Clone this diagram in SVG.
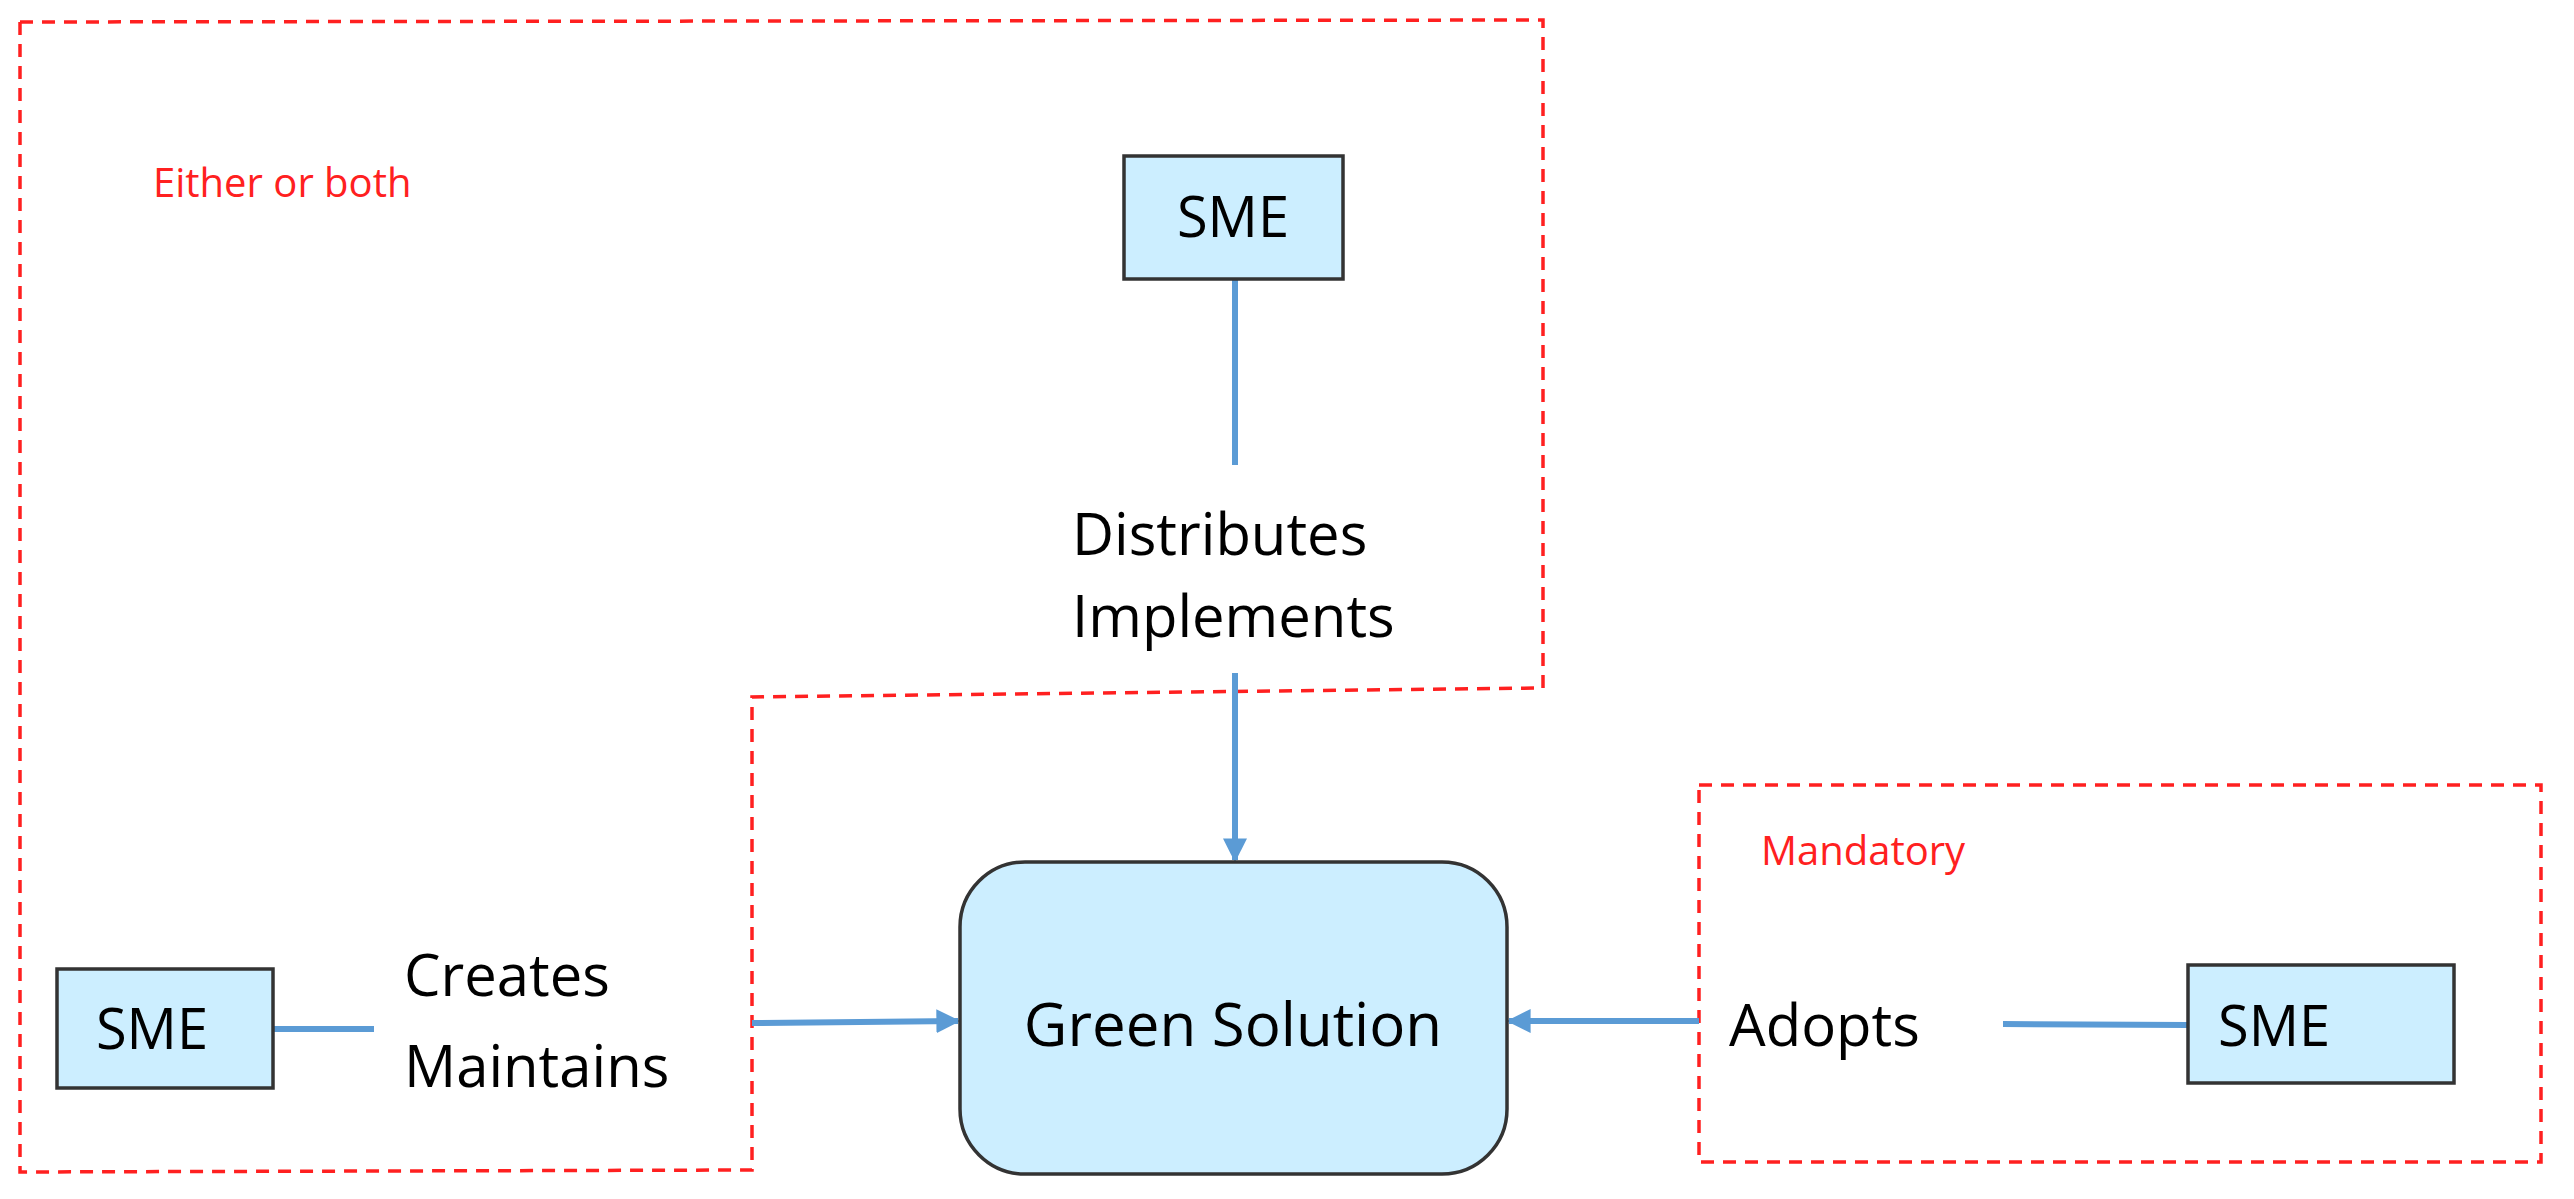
<svg xmlns="http://www.w3.org/2000/svg" width="2574" height="1199" viewBox="0 0 2574 1199">
<style>
.dash{fill:none;stroke:#ff2020;stroke-width:3.5;stroke-dasharray:13 9}
.box{fill:#cceeff;stroke:#333;stroke-width:3.5}
.t{font-family:"Open Sans","Liberation Sans",sans-serif;fill:#000}
.r{font-family:"Open Sans","Liberation Sans",sans-serif;fill:#ff2020;font-size:40px}
.c{fill:none;stroke:#5b9bd5;stroke-width:6}
</style>
<defs><marker id="a" viewBox="0 0 10 10" refX="9" refY="5" markerWidth="4" markerHeight="4" orient="auto"><path d="M0,0L10,5L0,10z" fill="#5b9bd5"/></marker></defs>
<rect width="2574" height="1199" fill="#fff"/>
<g id="groups">
<path class="dash" d="M20,22 L1543,20 L1543,688 L752,697 L752,1170 L20,1172 Z"/>
<rect class="dash" x="1699" y="785" width="842" height="377"/>
<text class="r" x="153" y="197">Either or both</text>
<text class="r" x="1761" y="865">Mandatory</text>
</g>
<g id="connectors">
<line class="c" x1="1235" y1="279" x2="1235" y2="465"/>
<line class="c" x1="1235" y1="673" x2="1235" y2="860" marker-end="url(#a)"/>
<line class="c" x1="273" y1="1029" x2="374" y2="1029"/>
<line class="c" x1="752" y1="1023" x2="958" y2="1021" marker-end="url(#a)"/>
<line class="c" x1="1699" y1="1021" x2="1509" y2="1021" marker-end="url(#a)"/>
<line class="c" x1="2003" y1="1024" x2="2188" y2="1025"/>
</g>
<g id="sme-top"><rect class="box" x="1124" y="156" width="219" height="123"/><text class="t" x="1233" y="237" font-size="56" text-anchor="middle">SME</text></g>
<g id="label-dist"><text class="t" x="1072" y="555" font-size="58">Distributes</text><text class="t" x="1072" y="637" font-size="58">Implements</text></g>
<g id="sme-left"><rect class="box" x="57" y="969" width="216" height="119"/><text class="t" x="152" y="1049" font-size="56" text-anchor="middle">SME</text></g>
<g id="label-create"><text class="t" x="404" y="996" font-size="58">Creates</text><text class="t" x="404" y="1087" font-size="58">Maintains</text></g>
<g id="green"><rect class="box" x="960" y="862" width="547" height="312" rx="65"/><text class="t" x="1233" y="1046" font-size="60" text-anchor="middle">Green Solution</text></g>
<g id="label-adopt"><text class="t" x="1729" y="1046" font-size="58">Adopts</text></g>
<g id="sme-right"><rect class="box" x="2188" y="965" width="266" height="118"/><text class="t" x="2218" y="1046" font-size="56">SME</text></g>
</svg>
